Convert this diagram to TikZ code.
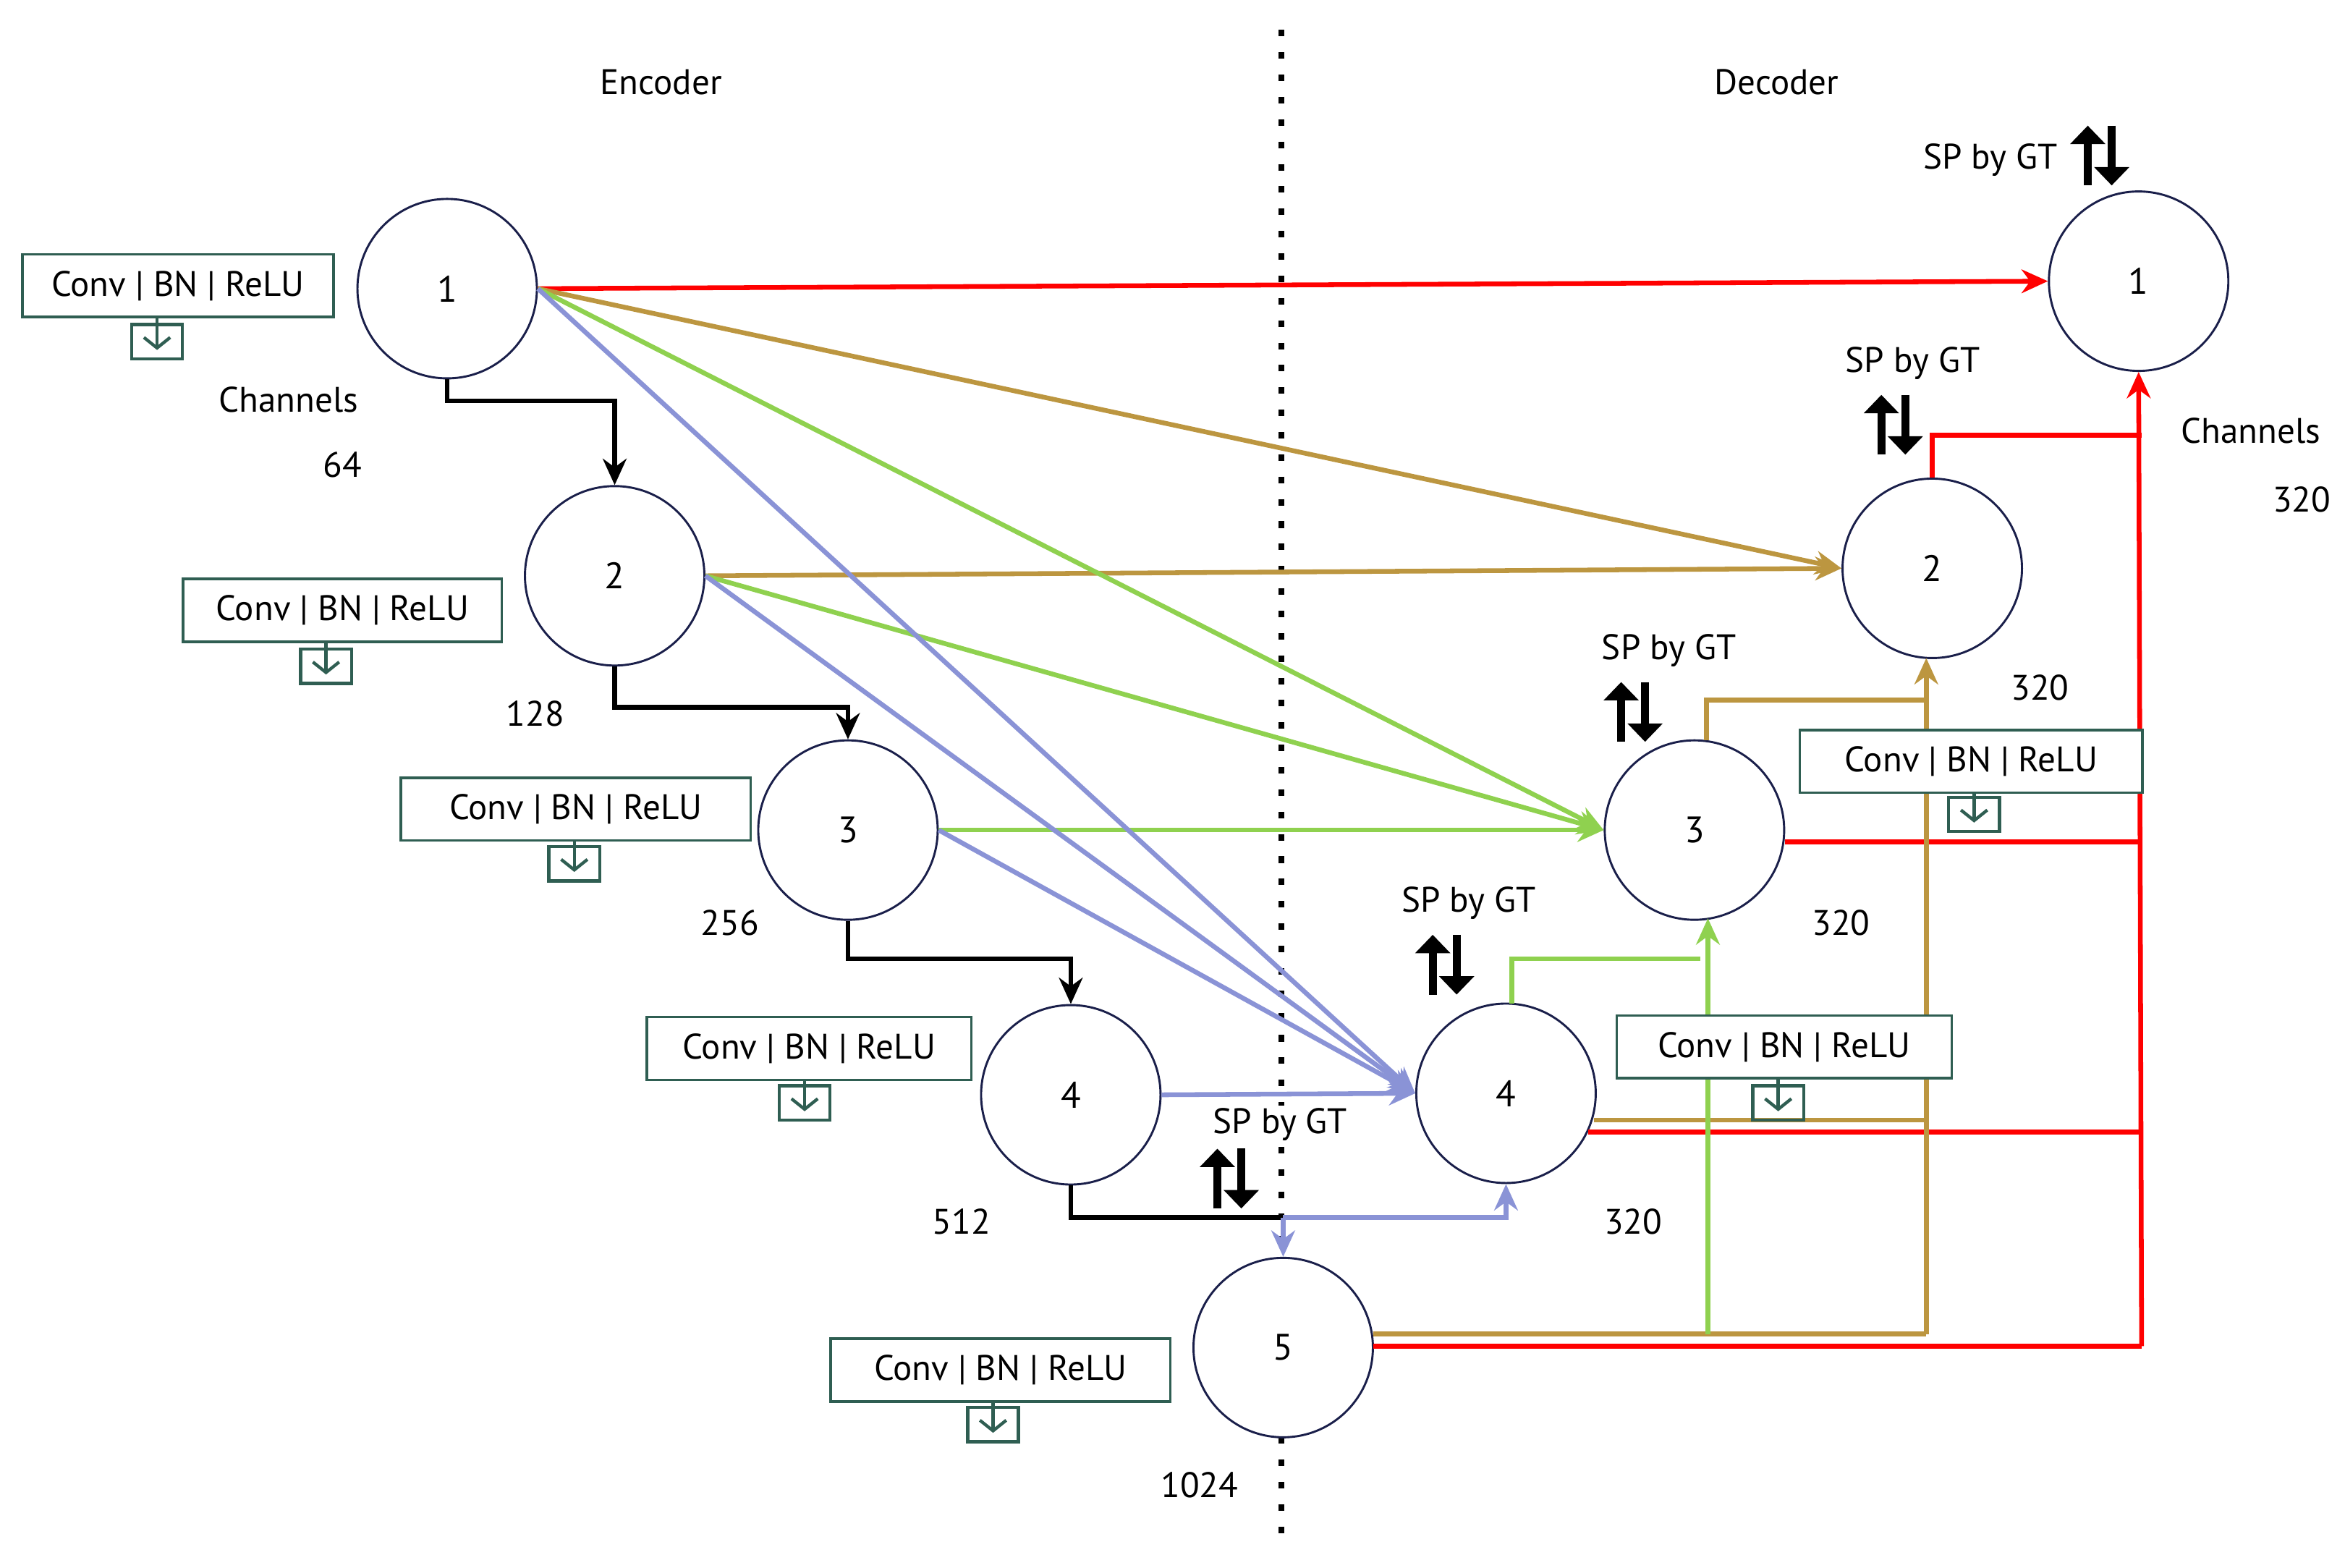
\documentclass[tikz,border=0pt]{standalone}
\usepackage{fontspec}
\setmainfont{PT Sans}
\usetikzlibrary{arrows.meta}
\definecolor{cred}{HTML}{FF0000}
\definecolor{cgold}{HTML}{BC9640}
\definecolor{cgreen}{HTML}{8FD14F}
\definecolor{cblue}{HTML}{8A93D6}
\definecolor{cnavy}{HTML}{1A1F4A}
\definecolor{cbox}{HTML}{2F5E52}
\begin{document}
\begin{tikzpicture}[x=0.02cm,y=-0.02cm,
  font=\fontsize{13.5}{15}\selectfont,
  st/.style={circle,draw=cnavy,fill=white,line width=0.8pt,minimum size=2.4cm,inner sep=0pt,font=\fontsize{14}{16}\selectfont},
  cb/.style={draw=cbox,line width=1pt,minimum height=0.84cm,inner sep=2pt},
  con/.style={line width=1.8pt,-{Stealth[length=10pt,width=9pt]}},
  lin/.style={line width=1.8pt},
  lbl/.style={inner sep=0pt},
  bigar/.style={line width=3pt,-{Triangle[length=7pt,width=13pt]}}
]
\useasboundingbox (0,0) rectangle (1568,1048);
\newcommand\mkicon[3]{% x, y of box bottom, icon center y
  \draw[cbox,line width=1.2pt] (#1-17,#3-11) rectangle (#1+17,#3+12);
  \draw[cbox,line width=1.2pt,-{Straight Barb[length=4pt,width=10pt]}] (#1,#2) -- (#1,#3+6);}
\newcommand\updn[2]{%
  \draw[bigar] (#1-8,#2+20) -- (#1-8,#2-20);
  \draw[bigar] (#1+8,#2-20) -- (#1+8,#2+20);}

% divider
\draw[line width=2.2pt,dash pattern=on 2.5pt off 6pt] (857,20) -- (857,1030);
\node[lbl] (enc) at (442,55) {Encoder};
\node[lbl] (dec) at (1188,55) {Decoder};

% nodes
\node[st] (e1) at (299,193) {1};
\node[st] (e2) at (411,385) {2};
\node[st] (e3) at (567,555) {3};
\node[st] (e4) at (716,732) {4};
\node[st] (e5) at (858,901) {5};
\node[st] (d4) at (1007,731) {4};
\node[st] (d3) at (1133,555) {3};
\node[st] (d2) at (1292,380) {2};
\node[st] (d1) at (1430,188) {1};

% conv boxes
\node[cb,minimum width=4.16cm] (b1) at (119,191) {Conv | BN | ReLU};
\mkicon{105}{212}{228}
\node[cb,minimum width=4.26cm] (b2) at (229,408) {Conv | BN | ReLU};
\mkicon{218}{429}{445}
\node[cb,minimum width=4.68cm] (b3) at (385,541) {Conv | BN | ReLU};
\mkicon{384}{562}{577}
\node[cb,minimum width=4.34cm] (b4) at (541,701) {Conv | BN | ReLU};
\mkicon{538}{722}{737}
\node[cb,minimum width=4.54cm] (b5) at (669,916) {Conv | BN | ReLU};
\mkicon{664}{937}{952}

% channel labels
\node[lbl] (c1) at (193,267) {Channels};
\node[lbl] (n1) at (229,311) {64};
\node[lbl] (n2) at (358,477) {128};
\node[lbl] (n3) at (488,617) {256};
\node[lbl] (n4) at (643,817) {512};
\node[lbl,fill=white,inner sep=1pt] (n5) at (802,993) {1024};
\node[lbl] (c2) at (1505,288) {Channels};
\node[lbl] (m1) at (1539,334) {320};
\node[lbl] (m2) at (1364,460) {320};
\node[lbl] (m3) at (1231,617) {320};
\node[lbl] (m4) at (1092,817) {320};

% SP by GT
\node[lbl] (s1) at (1331,107) {SP by GT}; \updn{1404}{104}
\node[lbl] (s2) at (1279,243) {SP by GT}; \updn{1266}{284}
\node[lbl] (s3) at (1116,435) {SP by GT}; \updn{1092}{476}
\node[lbl] (s4) at (982,604) {SP by GT}; \updn{966}{645}
\node[lbl,fill=white,inner sep=1pt] (s5) at (856,752) {SP by GT}; \updn{822}{788}

% black encoder path
\draw[con] (e1.south) |- (411,268) -- (e2.north);
\draw[con] (e2.south) |- (567,473) -- (e3.north);
\draw[con] (e3.south) |- (716,641) -- (e4.north);
\draw[lin] (e4.south) |- (858,814);
\draw[con,cblue] (858,814) -- (e5.north);

% red
\draw[con,cred] (e1.east) -- (d1.west);
\draw[lin,cred] (d2.north) |- (1432,291);
\draw[lin,cred] (d3.east |- 0,563) -- (1432,563);
\draw[lin,cred] (1062,757) -- (1432,757);
\draw[lin,cred] (918,900) -- (1432,900);
\draw[con,cred] (1432,900) -- (d1.south);

% gold
\draw[con,cgold] (e1.east) -- (d2.west);
\draw[con,cgold] (e2.east) -- (d2.west);
\draw[lin,cgold] (1141,495) |- (1288,468);
\draw[lin,cgold] (1066,749) -- (1288,749);
\draw[lin,cgold] (918,892) -- (1288,892);
\draw[con,cgold] (1288,892) -- (1288,440);

% green
\draw[con,cgreen] (e1.east) -- (d3.west);
\draw[con,cgreen] (e2.east) -- (d3.west);
\draw[con,cgreen] (e3.east) -- (d3.west);
\draw[lin,cgreen] (1011,671) |- (1137,641);
\draw[con,cgreen] (1142,892) -- (1142,614);

% blue
\draw[con,cblue] (e1.east) -- (d4.west);
\draw[con,cblue] (e2.east) -- (d4.west);
\draw[con,cblue] (e3.east) -- (d4.west);
\draw[con,cblue] (e4.east) -- (d4.west);
\draw[con,cblue] (858,814) -| (d4.south);

% decoder boxes (drawn above lines)
\node[cb,fill=white,minimum width=4.58cm] (b6) at (1318,509) {Conv | BN | ReLU};
\mkicon{1320}{530}{544}
\node[cb,fill=white,minimum width=4.48cm] (b7) at (1193,700) {Conv | BN | ReLU};
\mkicon{1189}{720}{737}
\end{tikzpicture}
\end{document}
